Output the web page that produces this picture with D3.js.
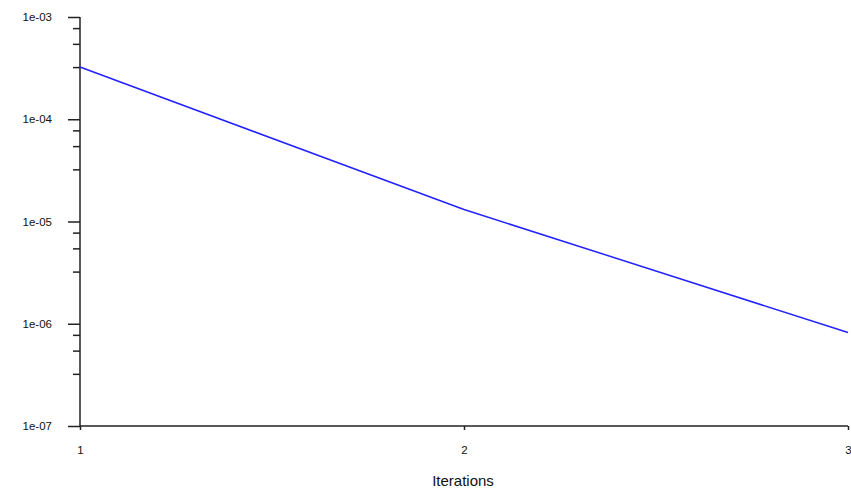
<!DOCTYPE html>
<html>
<head>
<meta charset="utf-8">
<script src="https://cdn.jsdelivr.net/npm/d3@7"></script>
<style>
  body { margin: 0; background: #fff; }
  text { font-family: "Liberation Sans", Arial, sans-serif; }
</style>
</head>
<body>
<div id="chart"></div>
<script>
var svgWidth = 851;
var svgHeight = 495;

// data
var iterations = [1, 2, 3];
var residuals = [3.24e-4, 1.31e-5, 8.2e-7];
var yTickValues = [1e-3, 1e-4, 1e-5, 1e-6, 1e-7];
var yTickLabels = ["1e-03", "1e-04", "1e-05", "1e-06", "1e-07"];
var xTickValues = [1, 2, 3];
var minorFactors = [7.7, 5.4, 3.2];

var margin = { top: 17, right: 3, bottom: 69, left: 80 };
var width = svgWidth - margin.left - margin.right;
var height = svgHeight - margin.top - margin.bottom;

var svg = d3.select("#chart")
    .append("svg")
    .attr("width", svgWidth)
    .attr("height", svgHeight);

var chartGroup = svg.append("g")
    .attr("transform", `translate(${margin.left}, ${margin.top})`);

var xScale = d3.scaleLinear()
    .domain([1, 3])
    .range([0, width]);

var yScale = d3.scaleLog()
    .domain([1e-7, 1e-3])
    .range([height, 0]);

// minor ticks on y
var minorTicks = [];
yTickValues.slice(1).forEach(function (d) {
    minorFactors.forEach(function (f) {
        minorTicks.push(d * f);
    });
});

chartGroup.selectAll(".minor")
    .data(minorTicks)
    .enter()
    .append("line")
    .attr("x1", -7)
    .attr("x2", 0)
    .attr("y1", d => yScale(d))
    .attr("y2", d => yScale(d))
    .attr("stroke", "#222")
    .attr("stroke-width", 1.5);

var leftAxis = d3.axisLeft(yScale)
    .tickValues(yTickValues)
    .tickFormat((d, i) => yTickLabels[i])
    .tickSize(12)
    .tickPadding(16);

var yAxis = chartGroup.append("g")
    .call(leftAxis);

var bottomAxis = d3.axisBottom(xScale)
    .tickValues(xTickValues)
    .tickFormat(d3.format("d"))
    .tickSize(4)
    .tickPadding(16);

var xAxis = chartGroup.append("g")
    .attr("transform", `translate(0, ${height})`)
    .call(bottomAxis);

[yAxis, xAxis].forEach(function (ax) {
    ax.select(".domain").attr("stroke", "#222").attr("stroke-width", 1.5);
    ax.selectAll(".tick line").attr("stroke", "#222").attr("stroke-width", 1.5);
    ax.selectAll(".tick text")
        .attr("fill", "#111")
        .style("font-size", "11.5px");
});

// plain axis lines, no outer ticks
yAxis.select(".domain").attr("d", `M0,0V${height}`);
xAxis.select(".domain").attr("d", `M0,0H${width}`);

var line = d3.line()
    .x((d, i) => xScale(iterations[i]))
    .y(d => yScale(d));

chartGroup.append("path")
    .datum(residuals)
    .attr("d", line)
    .attr("fill", "none")
    .attr("stroke", "#2222ff")
    .attr("stroke-width", 1.5);

chartGroup.append("text")
    .attr("x", width / 2 - 1)
    .attr("y", height + 60)
    .attr("text-anchor", "middle")
    .style("font-size", "15px")
    .attr("fill", "#111")
    .text("Iterations");
</script>
</body>
</html>
